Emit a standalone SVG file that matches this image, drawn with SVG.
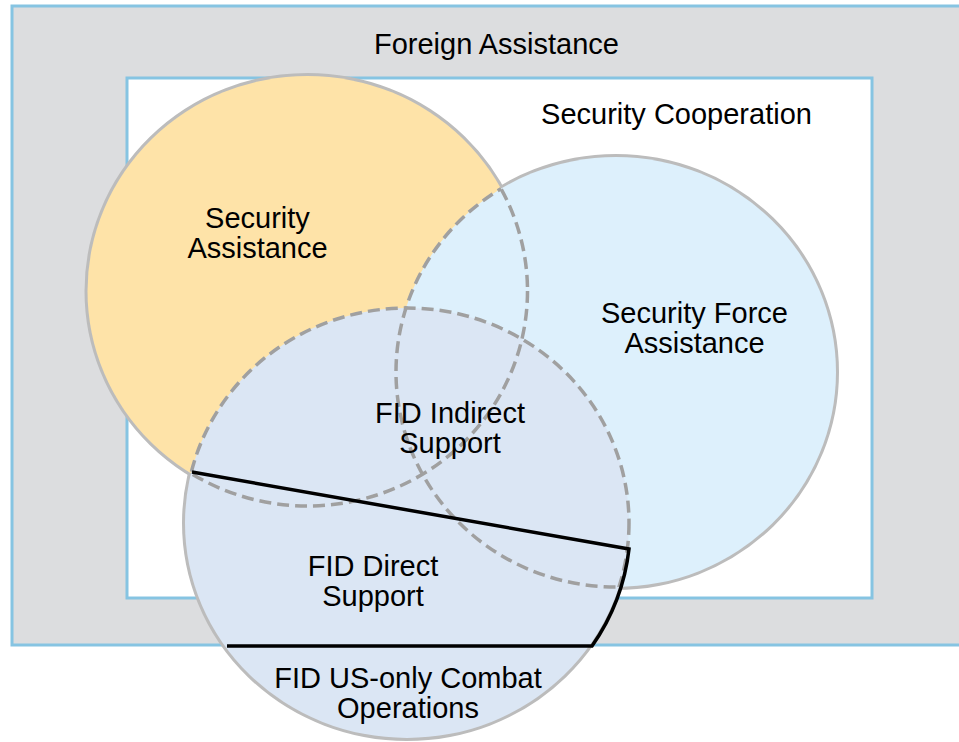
<svg xmlns="http://www.w3.org/2000/svg" width="959" height="742" viewBox="0 0 959 742">
<style>
.frame{stroke:#86c4e2;stroke-width:3}
.edge{fill:none;stroke:#bcbcbc;stroke-width:6}
.dash{fill:none;stroke:#a0a0a0;stroke-width:3.5;stroke-dasharray:12 6}
.bold{fill:none;stroke:#000;stroke-width:3.5;stroke-linejoin:miter}
text{font-family:"Liberation Sans",Arial,Helvetica,sans-serif;font-size:29px;fill:#000;text-anchor:middle}
</style>
<defs>
<ellipse id="cY" cx="307.5" cy="291" rx="220" ry="215"/>
<ellipse id="cB" cx="616" cy="372" rx="220" ry="215"/>
<ellipse id="cF" cx="407" cy="523" rx="222" ry="215"/>
<clipPath id="inBF"><use href="#cB"/><use href="#cF"/></clipPath>
<clipPath id="inYF"><use href="#cY"/><use href="#cF"/></clipPath>
<clipPath id="inYB"><use href="#cY"/><use href="#cB"/></clipPath>
</defs>
<g id="foreign-assistance">
<rect x="12" y="6" width="960" height="639" fill="#dcdddf" class="frame"/>
<text x="496.5" y="54">Foreign Assistance</text>
</g>
<g id="security-cooperation">
<rect x="127" y="78" width="745" height="520" fill="#fff" class="frame"/>
<text x="676.5" y="124">Security Cooperation</text>
</g>
<g id="outlines">
<use href="#cY" class="edge"/>
<use href="#cB" class="edge"/>
<use href="#cF" class="edge"/>
</g>
<g id="security-assistance">
<use href="#cY" fill="#fee3a8"/>
</g>
<g id="security-force-assistance">
<use href="#cB" fill="#ddf0fc"/>
</g>
<g id="fid">
<use href="#cF" fill="#dbe6f4"/>
</g>
<g id="connectors">
<use href="#cY" class="dash" clip-path="url(#inBF)"/>
<use href="#cB" class="dash" clip-path="url(#inYF)"/>
<use href="#cF" class="dash" clip-path="url(#inYB)"/>
<path class="bold" d="M192,472 L629,549 A222,215 0 0 1 592,646 L227,646"/>
</g>
<g id="labels">
<text x="257.5" y="228">Security</text>
<text x="257.5" y="258">Assistance</text>
<text x="694.5" y="323">Security Force</text>
<text x="694.5" y="353">Assistance</text>
<text x="450" y="423">FID Indirect</text>
<text x="450" y="453">Support</text>
<text x="373" y="576">FID Direct</text>
<text x="373" y="606">Support</text>
<text x="408" y="688">FID US-only Combat</text>
<text x="408" y="718">Operations</text>
</g>
</svg>
